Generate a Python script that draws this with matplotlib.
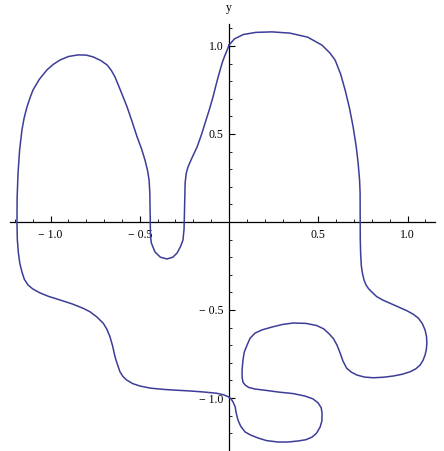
import matplotlib
matplotlib.use("Agg")
import matplotlib.pyplot as plt
from matplotlib.ticker import FixedLocator, FuncFormatter

# closed curve (data units)
curve_x = [
    0.0, 0.03, 0.08, 0.15, 0.24, 0.34, 0.44, 0.52, 0.565, 0.594, 0.625, 0.65,
    0.675, 0.695, 0.712, 0.723, 0.731, 0.734, 0.735, 0.735, 0.737, 0.741,
    0.747, 0.756, 0.767, 0.78, 0.80, 0.827, 0.862, 0.902, 0.95, 0.996, 1.033,
    1.061, 1.083, 1.098, 1.106, 1.108, 1.105, 1.098, 1.086, 1.07, 1.045,
    1.014, 0.97, 0.92, 0.865, 0.808, 0.758, 0.715, 0.685, 0.659, 0.638,
    0.622, 0.605, 0.585, 0.56, 0.53, 0.49, 0.43, 0.359, 0.3, 0.24,
    0.185, 0.146, 0.118, 0.101, 0.085, 0.078, 0.073, 0.073, 0.078, 0.09, 0.11,
    0.146, 0.21, 0.275, 0.36, 0.426, 0.47, 0.499, 0.516, 0.521, 0.52, 0.51,
    0.49, 0.465, 0.43, 0.387, 0.33, 0.275, 0.21, 0.162, 0.12, 0.09, 0.065,
    0.05, 0.04, 0.034, 0.022, 0.01, -0.004, -0.03, -0.069, -0.14, -0.218,
    -0.29, -0.368, -0.44, -0.499, -0.54, -0.573, -0.595, -0.611, -0.625,
    -0.639, -0.652, -0.667, -0.684, -0.704, -0.74, -0.779, -0.818, -0.88,
    -0.947, -1.01,
    -1.059, -1.1, -1.126, -1.147, -1.16, -1.172, -1.18, -1.186, -1.188,
    -1.187, -1.182, -1.173, -1.16, -1.148, -1.132, -1.115, -1.098, -1.063,
    -1.02, -0.985, -0.947, -0.9, -0.846, -0.8, -0.762, -0.72, -0.683, -0.66,
    -0.639, -0.605, -0.571, -0.543, -0.515, -0.49, -0.471, -0.456, -0.448,
    -0.444, -0.443, -0.442, -0.44, -0.435, -0.415, -0.385, -0.347, -0.315,
    -0.291, -0.272, -0.258, -0.252, -0.25, -0.248, -0.246, -0.24, -0.23,
    -0.205, -0.179, -0.155, -0.134, -0.11, -0.09, -0.07, -0.05, -0.035,
    -0.022, -0.01, 0.0,
]
curve_y = [
    1.005, 1.04, 1.065, 1.077, 1.08, 1.073, 1.05, 1.005, 0.96, 0.92, 0.84,
    0.75, 0.645, 0.54, 0.43, 0.335, 0.24, 0.165, 0.0, -0.1, -0.18, -0.25,
    -0.29, -0.33, -0.357, -0.377, -0.398, -0.424, -0.444, -0.462, -0.483,
    -0.504, -0.525, -0.547, -0.578, -0.614, -0.65, -0.689, -0.725, -0.756,
    -0.787, -0.813, -0.835, -0.851, -0.865, -0.875, -0.882, -0.885, -0.881,
    -0.869, -0.853, -0.831, -0.79, -0.744, -0.7, -0.663, -0.635, -0.607,
    -0.588, -0.576, -0.574, -0.582, -0.597, -0.613, -0.631, -0.66,
    -0.699, -0.74, -0.784, -0.84, -0.881, -0.91, -0.926, -0.94, -0.949,
    -0.957, -0.966, -0.975, -0.989, -1.005, -1.028, -1.055, -1.085, -1.13,
    -1.165, -1.2, -1.222, -1.237, -1.244, -1.25, -1.25, -1.242, -1.227, -1.21,
    -1.193, -1.16, -1.125, -1.085, -1.049, -1.022, -1.003, -0.993, -0.982,
    -0.973, -0.966, -0.960, -0.956, -0.951, -0.944, -0.932, -0.918, -0.898,
    -0.877, -0.851, -0.81, -0.765, -0.705, -0.652, -0.61, -0.576, -0.54,
    -0.51, -0.49, -0.465, -0.443, -0.423, -0.403, -0.38, -0.358, -0.325,
    -0.284, -0.235, -0.176, -0.1, 0.0, 0.14, 0.278, 0.41, 0.523, 0.59, 0.653,
    0.705, 0.75, 0.81, 0.864, 0.895, 0.92, 0.94, 0.949, 0.948, 0.938, 0.918,
    0.892, 0.862, 0.824, 0.74, 0.653, 0.57, 0.483, 0.415, 0.352, 0.29, 0.239,
    0.17, 0.1, 0.0, -0.08, -0.12, -0.17, -0.2, -0.21, -0.2, -0.176, -0.14,
    -0.102, -0.04, 0.05, 0.16, 0.222, 0.275, 0.313, 0.37, 0.426, 0.495,
    0.563, 0.64, 0.71, 0.79, 0.864, 0.915, 0.949, 0.978, 1.005,
]

major_ticks = [-1.0, -0.5, 0.5, 1.0]
minor_x = [-1.2, -1.1, -0.9, -0.8, -0.7, -0.6, -0.4, -0.3, -0.2, -0.1,
           0.1, 0.2, 0.3, 0.4, 0.6, 0.7, 0.8, 0.9, 1.1]
minor_y = [-1.2, -1.1, -0.9, -0.8, -0.7, -0.6, -0.4, -0.3, -0.2, -0.1,
           0.1, 0.2, 0.3, 0.4, 0.6, 0.7, 0.8, 0.9, 1.1]

plt.rcParams["font.family"] = ["Liberation Serif", "DejaVu Serif"]

fig = plt.figure(figsize=(4.44, 4.51), dpi=100)
ax = fig.add_axes([0, 0, 1, 1])
ax.patch.set_alpha(0)

ax.plot(curve_x, curve_y, color="#3d3d99", lw=1.1, solid_joinstyle="round")

ax.set_xlim(-1.283, 1.204)
ax.set_ylim(-1.301, 1.261)

for s in ("top", "right"):
    ax.spines[s].set_visible(False)
ax.spines["left"].set_position(("data", 0))
ax.spines["bottom"].set_position(("data", 0))
ax.spines["bottom"].set_bounds(-1.227, 1.154)
ax.spines["left"].set_bounds(-1.295, 1.125)
for s in ("left", "bottom"):
    ax.spines[s].set_linewidth(0.9)
    ax.spines[s].set_zorder(1)

ax.xaxis.set_major_locator(FixedLocator(major_ticks))
ax.yaxis.set_major_locator(FixedLocator(major_ticks))
ax.xaxis.set_minor_locator(FixedLocator(minor_x))
ax.yaxis.set_minor_locator(FixedLocator(minor_y))
fmt = FuncFormatter(lambda v, p: f"{v:.1f}".replace("-", "\u2212 "))
ax.xaxis.set_major_formatter(fmt)
ax.yaxis.set_major_formatter(fmt)

ax.tick_params(which="major", direction="in", length=4, width=0.8,
               labelsize=8.5, pad=4)
ax.tick_params(which="minor", direction="in", length=2.5, width=0.6)
ax.tick_params(axis="x", which="major", pad=5)

ax.text(0, 1.18, "y", ha="center", va="bottom", fontsize=8.5)

fig.savefig("out.png", dpi=100)
